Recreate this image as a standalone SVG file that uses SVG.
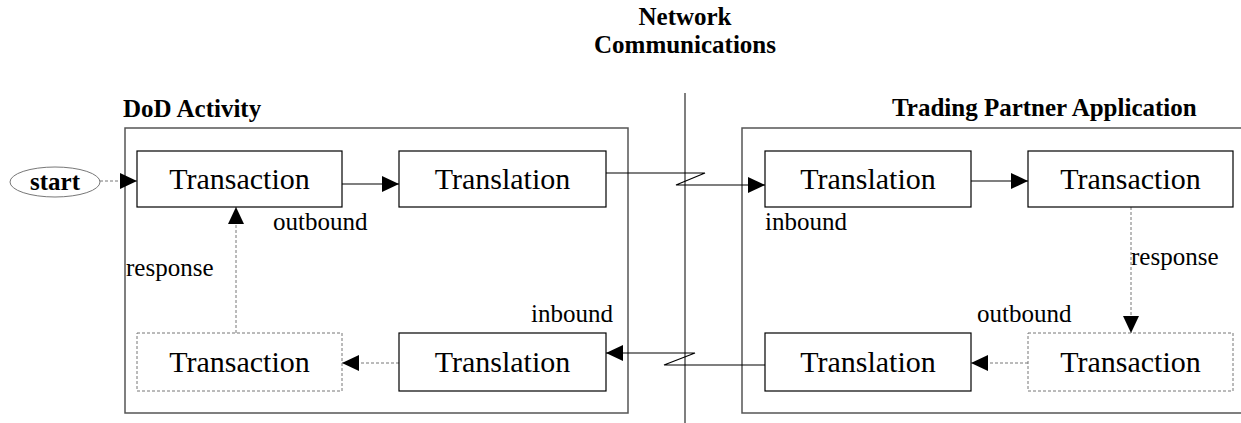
<svg xmlns="http://www.w3.org/2000/svg" width="1241" height="423" viewBox="0 0 1241 423">
  <style>
    text { font-family: "Liberation Serif", "Times New Roman", serif; fill: #000; }
    .title { font-size: 25px; font-weight: bold; }
    .node { font-size: 30px; text-anchor: middle; }
    .lbl { font-size: 25px; }
    .frame { fill: none; stroke: #555; stroke-width: 1.5; }
    .box { fill: #fff; stroke: #000; stroke-width: 1.2; }
    .dbox { fill: #fff; stroke: #777; stroke-width: 1; stroke-dasharray: 3 2; }
    .solid { fill: none; stroke: #000; stroke-width: 1.2; }
    .dash { fill: none; stroke: #777; stroke-width: 1; stroke-dasharray: 3 2; }
  </style>
  <defs>
    <marker id="arrow" markerUnits="userSpaceOnUse" markerWidth="17" markerHeight="16" refX="17" refY="8" orient="auto">
      <path d="M0,0 L17,8 L0,16 z" fill="#000"/>
    </marker>
  </defs>

  <!-- headings -->
  <text class="title" x="685" y="25" text-anchor="middle">Network</text>
  <text class="title" x="685" y="53" text-anchor="middle">Communications</text>
  <text class="title" x="123" y="117">DoD Activity</text>
  <text class="title" x="892" y="116">Trading Partner Application</text>

  <!-- frames and network divider -->
  <rect class="frame" x="125" y="128" width="503" height="285"/>
  <rect class="frame" x="742" y="128" width="520" height="285"/>
  <line x1="685" y1="93" x2="685" y2="423" stroke="#555" stroke-width="1.5"/>

  <!-- connectors -->
  <g id="connectors">
    <line class="dash" x1="100" y1="181" x2="137" y2="181" marker-end="url(#arrow)"/>
    <line class="solid" x1="342" y1="184" x2="399" y2="184" marker-end="url(#arrow)"/>
    <path class="solid" d="M606,173 H705 L676,185 H765" marker-end="url(#arrow)"/>
    <line class="solid" x1="971" y1="181" x2="1028" y2="181" marker-end="url(#arrow)"/>
    <line class="dash" x1="1131" y1="207" x2="1131" y2="333" marker-end="url(#arrow)"/>
    <line class="dash" x1="1028" y1="363" x2="971" y2="363" marker-end="url(#arrow)"/>
    <path class="solid" d="M765,365 H664 L695,353 H606" marker-end="url(#arrow)"/>
    <line class="dash" x1="399" y1="363" x2="342" y2="363" marker-end="url(#arrow)"/>
    <line class="dash" x1="236" y1="333" x2="236" y2="207" marker-end="url(#arrow)"/>
  </g>

  <!-- connector labels -->
  <text class="lbl" x="273" y="230">outbound</text>
  <text class="lbl" x="126" y="276">response</text>
  <text class="lbl" x="531" y="322">inbound</text>
  <text class="lbl" x="765" y="230">inbound</text>
  <text class="lbl" x="1131" y="265">response</text>
  <text class="lbl" x="977" y="322">outbound</text>

  <!-- nodes -->
  <g id="start">
    <ellipse cx="55" cy="182" rx="45" ry="15" fill="#fff" stroke="#777" stroke-width="1"/>
    <text class="title" x="55" y="190" text-anchor="middle">start</text>
  </g>
  <g id="dod-transaction-out">
    <rect class="box" x="137" y="151" width="205" height="56"/>
    <text class="node" x="239.5" y="189">Transaction</text>
  </g>
  <g id="dod-translation-out">
    <rect class="box" x="399" y="151" width="207" height="56"/>
    <text class="node" x="502.5" y="189">Translation</text>
  </g>
  <g id="tp-translation-in">
    <rect class="box" x="765" y="151" width="206" height="56"/>
    <text class="node" x="868" y="189">Translation</text>
  </g>
  <g id="tp-transaction-in">
    <rect class="box" x="1028" y="151" width="205" height="56"/>
    <text class="node" x="1130.5" y="189">Transaction</text>
  </g>
  <g id="tp-transaction-resp">
    <rect class="dbox" x="1028" y="333" width="205" height="58"/>
    <text class="node" x="1130.5" y="372">Transaction</text>
  </g>
  <g id="tp-translation-out">
    <rect class="box" x="765" y="333" width="206" height="58"/>
    <text class="node" x="868" y="372">Translation</text>
  </g>
  <g id="dod-translation-in">
    <rect class="box" x="399" y="333" width="207" height="58"/>
    <text class="node" x="502.5" y="372">Translation</text>
  </g>
  <g id="dod-transaction-resp">
    <rect class="dbox" x="137" y="333" width="205" height="58"/>
    <text class="node" x="239.5" y="372">Transaction</text>
  </g>
</svg>
